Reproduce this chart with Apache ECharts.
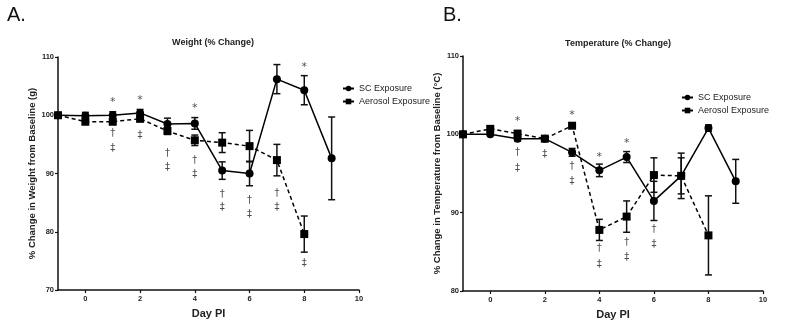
<!DOCTYPE html>
<html>
<head>
<meta charset="utf-8">
<script src="https://cdn.jsdelivr.net/npm/echarts@6/dist/echarts.min.js"></script>
<style>
html,body{margin:0;padding:0;background:#fff;}
#c{width:791px;height:328px;}
</style>
</head>
<body>
<div id="c"></div>
<script>
// ---- data ----
const days = [-1, 0, 1, 2, 3, 4, 5, 6, 7, 8, 9];
const xTicks = [0, 2, 4, 6, 8, 10];

// Weight (% change)
const weightSC = [100, 99.9, 100, 100.4, 98.5, 98.6, 90.5, 90.0, 106.2, 104.3, 92.6];
const weightSCErr = [0, 0.6, 0.6, 0.6, 1.0, 1.0, 1.5, 2.1, 2.5, 2.5, 7.1];
const weightAer = [100, 98.9, 98.9, 99.4, 97.3, 95.7, 95.3, 94.7, 92.3, 79.6];
const weightAerErr = [0, 0.5, 0.5, 0.5, 0.6, 0.9, 1.7, 2.7, 2.7, 3.1];
const weightStars = [[1, 102.2], [2, 102.6], [4, 101.2], [7, 110.4], [8, 108.3]];
const weightDagger = [[1, 96.8], [3, 93.4], [4, 92.2], [5, 86.4], [6, 85.3], [7, 86.5]];
const weightDDagger = [[1, 94.3], [2, 96.6], [3, 91.0], [4, 89.8], [5, 84.2], [6, 82.9], [7, 84.2], [8, 74.5]];

// Temperature (% change)
const tempSC = [100, 100, 99.45, 99.45, 97.7, 95.4, 97.1, 91.5, 94.7, 100.8, 94.0];
const tempSCErr = [0, 0.1, 0.3, 0.2, 0.5, 0.8, 0.7, 2.5, 2.3, 0.4, 2.8];
const tempAer = [100, 100.7, 100.1, 99.45, 101.1, 87.8, 89.5, 94.8, 94.7, 87.1];
const tempAerErr = [0, 0.2, 0.2, 0.2, 0.2, 1.35, 2.0, 2.2, 2.9, 5.05];
const tempStars = [[1, 101.7], [3, 102.5], [4, 97.1], [5, 98.9]];
const tempDagger = [[1, 97.7], [3, 95.9], [4, 85.4], [5, 86.2], [6, 87.9]];
const tempDDagger = [[1, 95.7], [2, 97.4], [3, 94.0], [4, 83.4], [5, 84.3], [6, 86.0]];

const yTicksLeft = [70, 80, 90, 100, 110];
const yTicksRight = [80, 90, 100, 110];

// ---- helpers ----
const pairs = (vals) => vals.map((v, i) => [days[i], v]);
const errs = (vals, e) => vals.map((v, i) => [days[i], v - e[i], v + e[i]]);

function errRender(params, api) {
  const x = api.value(0), lo = api.value(1), hi = api.value(2);
  if (hi - lo < 0.05) return null;
  const p1 = api.coord([x, hi]);
  const p2 = api.coord([x, lo]);
  const w = 3.5;
  const st = { stroke: '#111', lineWidth: 1.5 };
  return {
    type: 'group',
    children: [
      { type: 'line', shape: { x1: p1[0], y1: p1[1], x2: p2[0], y2: p2[1] }, style: st },
      { type: 'line', shape: { x1: p1[0] - w, y1: p1[1], x2: p1[0] + w, y2: p1[1] }, style: st },
      { type: 'line', shape: { x1: p2[0] - w, y1: p2[1], x2: p2[0] + w, y2: p2[1] }, style: st }
    ]
  };
}

const font = 'Liberation Sans, Arial, sans-serif';
const labelStyle = { color: '#222', fontSize: 7.5, fontWeight: 'bold', fontFamily: font };

function xAxis(gi) {
  return {
    type: 'value', gridIndex: gi, min: -1, max: 10, interval: 1,
    name: 'Day PI', nameLocation: 'middle', nameGap: 18,
    nameTextStyle: { fontSize: 11, fontWeight: 'bold', color: '#222', fontFamily: font },
    axisLine: { show: true, onZero: false, lineStyle: { color: '#111', width: 1.5 } },
    axisTick: { show: true, length: 3, lineStyle: { color: '#111', width: 1.2 }, customValues: xTicks },
    axisLabel: Object.assign({}, labelStyle, { margin: 5, customValues: xTicks }),
    splitLine: { show: false }
  };
}
function yAxis(gi, min, name, ticks) {
  return {
    type: 'value', gridIndex: gi, min: min, max: 110, interval: 10,
    name: name, nameLocation: 'middle', nameGap: 19,
    nameTextStyle: { fontSize: 9.5, fontWeight: 'bold', color: '#222', fontFamily: font },
    axisLine: { show: true, onZero: false, lineStyle: { color: '#111', width: 1.5 } },
    axisTick: { show: true, length: 3, lineStyle: { color: '#111', width: 1.2 }, customValues: ticks },
    axisLabel: Object.assign({}, labelStyle, { margin: 4, customValues: ticks }),
    splitLine: { show: false }
  };
}

function lineSeries(name, vals, gi, dashed) {
  return {
    name: name, type: 'line', xAxisIndex: gi, yAxisIndex: gi,
    data: pairs(vals),
    symbol: dashed ? 'rect' : 'circle', symbolSize: 8,
    itemStyle: { color: '#000' },
    lineStyle: { color: '#000', width: 1.5, type: dashed ? [4, 3] : 'solid' },
    z: 5
  };
}
function errSeries(vals, e, gi) {
  return {
    type: 'custom', xAxisIndex: gi, yAxisIndex: gi,
    renderItem: errRender, data: errs(vals, e), z: 4, silent: true
  };
}
function textSeries(pts, txt, gi, size) {
  return {
    type: 'scatter', xAxisIndex: gi, yAxisIndex: gi, data: pts,
    symbolSize: 0, silent: true,
    label: { show: true, position: 'inside', formatter: txt, fontSize: size, color: '#222', fontFamily: 'DejaVu Sans, sans-serif' }
  };
}

const option = {
  animation: false,
  backgroundColor: '#fff',
  title: [
    { text: 'A.', left: 2, top: 0, textStyle: { fontSize: 20, fontWeight: 'normal', color: '#111', fontFamily: font } },
    { text: 'B.', left: 438, top: 0, textStyle: { fontSize: 20, fontWeight: 'normal', color: '#111', fontFamily: font } },
    { text: 'Weight (% Change)', left: 208, top: 33, textAlign: 'center', textStyle: { fontSize: 9, fontWeight: 'bold', color: '#222', fontFamily: font } },
    { text: 'Temperature (% Change)', left: 613, top: 34, textAlign: 'center', textStyle: { fontSize: 9, fontWeight: 'bold', color: '#222', fontFamily: font } }
  ],
  legend: [
    { left: 337, top: 79, orient: 'vertical', itemGap: 4, itemWidth: 11, itemHeight: 7,
      textStyle: { fontSize: 9, color: '#222', fontFamily: font }, data: ['SC Exposure', 'Aerosol Exposure'] },
    { left: 676, top: 88, orient: 'vertical', itemGap: 4, itemWidth: 11, itemHeight: 7,
      textStyle: { fontSize: 9, color: '#222', fontFamily: font }, data: ['SC Exposure', 'Aerosol Exposure'] }
  ],
  grid: [
    { left: 58, top: 57, width: 301, height: 233 },
    { left: 463, top: 56, width: 300, height: 235 }
  ],
  xAxis: [xAxis(0), xAxis(1)],
  yAxis: [
    yAxis(0, 70, '% Change in Weight from Baseline (g)', yTicksLeft),
    yAxis(1, 80, '% Change in Temperature from Baseline (°C)', yTicksRight)
  ],
  series: [
    errSeries(weightSC, weightSCErr, 0),
    errSeries(weightAer, weightAerErr, 0),
    lineSeries('SC Exposure', weightSC, 0, false),
    lineSeries('Aerosol Exposure', weightAer, 0, true),
    textSeries(weightStars, '*', 0, 11),
    textSeries(weightDagger, '†', 0, 10),
    textSeries(weightDDagger, '‡', 0, 10),
    errSeries(tempSC, tempSCErr, 1),
    errSeries(tempAer, tempAerErr, 1),
    lineSeries('SC Exposure', tempSC, 1, false),
    lineSeries('Aerosol Exposure', tempAer, 1, true),
    textSeries(tempStars, '*', 1, 11),
    textSeries(tempDagger, '†', 1, 10),
    textSeries(tempDDagger, '‡', 1, 10)
  ]
};
const chart = echarts.init(document.getElementById('c'), null, { renderer: 'canvas' });
chart.setOption(option);
</script>
</body>
</html>
